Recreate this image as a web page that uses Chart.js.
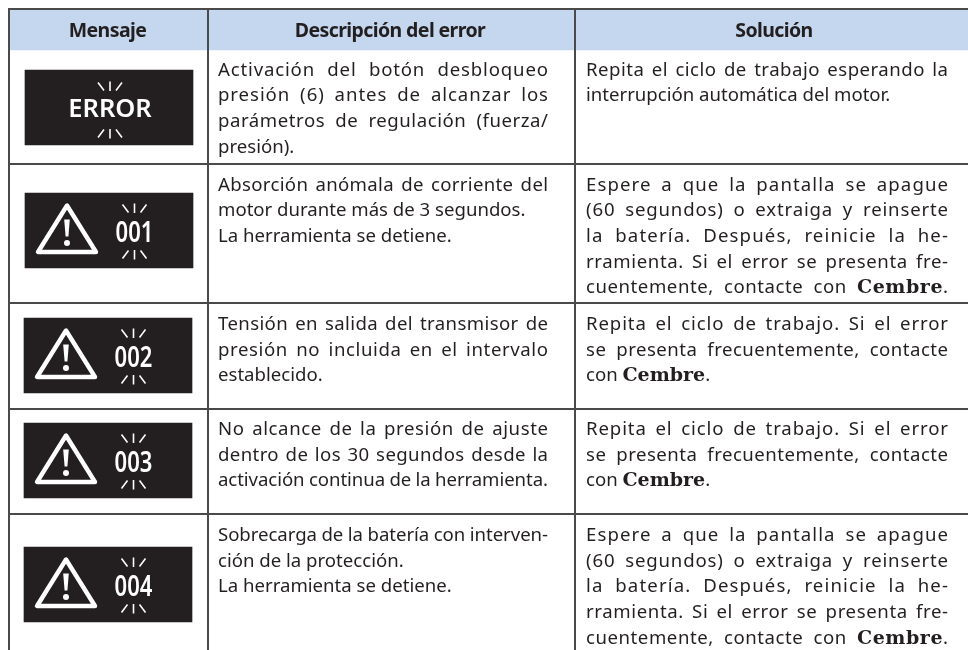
<!DOCTYPE html>
<html>
<head>
<meta charset="utf-8">
<script src="https://cdn.jsdelivr.net/npm/chart.js@4/dist/chart.umd.min.js"></script>
<style>
  html, body { margin: 0; padding: 0; background: #fff; }
  canvas { display: block; }
</style>
</head>
<body>
<canvas id="myChart" width="968" height="650"></canvas>
<script>
const columnEdges = [8.5, 207.5, 575];
const rowEdges = [8.5, 163.5, 303, 408.5, 514];
const headers = ["Mensaje", "Descripción del error", "Solución"];
const headerCenters = [107.5, 390, 774];
const messages = ["ERROR", "001", "002", "003", "004"];
const panelLefts = [25, 25, 24, 24, 24];
const panelRights = [193, 193, 192, 192, 192];
const panelCenters = [107.5, 230.5, 355.5, 460.5, 584.5];

const descriptions = [
  ["Activación del botón desbloqueo", "presión (6) antes de alcanzar los", "parámetros de regulación (fuerza/", "presión)."],
  ["Absorción anómala de corriente del", "motor durante más de 3 segundos.", "La herramienta se detiene."],
  ["Tensión en salida del transmisor de", "presión no incluida en el intervalo", "establecido."],
  ["No alcance de la presión de ajuste", "dentro de los 30 segundos desde la", "activación continua de la herramienta."],
  ["Sobrecarga de la batería con interven-", "ción de la protección.", "La herramienta se detiene."],
];
const descriptionJustified = [3, 1, 2, 3, 1];
const solutions = [
  ["Repita el ciclo de trabajo esperando la", "interrupción automática del motor."],
  ["Espere a que la pantalla se apague", "(60 segundos) o extraiga y reinserte", "la batería. Después, reinicie la he-", "rramienta. Si el error se presenta fre-", "cuentemente, contacte con Cembre."],
  ["Repita el ciclo de trabajo. Si el error", "se presenta frecuentemente, contacte", "con Cembre."],
  ["Repita el ciclo de trabajo. Si el error", "se presenta frecuentemente, contacte", "con Cembre."],
  ["Espere a que la pantalla se apague", "(60 segundos) o extraiga y reinserte", "la batería. Después, reinicie la he-", "rramienta. Si el error se presenta fre-", "cuentemente, contacte con Cembre."],
];
const solutionJustified = [1, 5, 2, 2, 5];
const firstBaselines = [75.7, 190.7, 330, 435, 541];

const INK = "#231f20";
const BODY_FONT = '18.6px "Noto Sans"';
const BRAND_FONT = 'bold 19px "DejaVu Serif"';
const LINE_GAP = 25.65;

function segments(word) {
  if (word.startsWith("Cembre")) {
    const rest = word.slice(6);
    return rest ? [["Cembre", BRAND_FONT], [rest, BODY_FONT]] : [["Cembre", BRAND_FONT]];
  }
  return [[word, BODY_FONT]];
}

function wordWidth(ctx, word) {
  let w = 0;
  segments(word).forEach(([t, f]) => {
    ctx.font = f;
    w += ctx.measureText(t).width;
  });
  return w;
}

// fits a line to the column width the way the justified print text does
function drawLine(ctx, text, x, y, right) {
  ctx.letterSpacing = "0px";
  const words = text.split(" ");
  const widths = words.map((w) => wordWidth(ctx, w));
  ctx.font = BODY_FONT;
  let space = ctx.measureText(" ").width;
  const natural = widths.reduce((a, b) => a + b, 0) + space * (words.length - 1);
  let spacing = 0;
  if (right) {
    const extra = right - x - natural;
    const gaps = words.length - 1;
    const letters = text.length - gaps - 1;
    spacing = (extra > 0 ? extra * 0.5 : extra * 0.55) / letters;
    if (gaps > 0) space += (extra - spacing * letters) / gaps;
  }
  ctx.letterSpacing = spacing + "px";
  let cx = x;
  words.forEach((word) => {
    segments(word).forEach(([t, f]) => {
      ctx.font = f;
      ctx.fillText(t, cx, y);
      cx += ctx.measureText(t).width;
    });
    cx += space;
  });
  ctx.letterSpacing = "0px";
}

function drawRays(ctx, cx, top, bottom) {
  ctx.strokeStyle = "#fff";
  ctx.lineWidth = 1.6;
  ctx.lineCap = "butt";
  [[-12, -6, top, top + 8], [0, 0, top - 1, top + 8.5], [12, 6, top, top + 8],
   [-6, -12, bottom, bottom + 8], [0, 0, bottom - 0.5, bottom + 9], [6, 12, bottom, bottom + 8]].forEach(([a, b, y0, y1]) => {
    ctx.beginPath();
    ctx.moveTo(cx + a, y0);
    ctx.lineTo(cx + b, y1);
    ctx.stroke();
  });
}

function drawWarning(ctx, cx, cy) {
  ctx.strokeStyle = "#fff";
  ctx.fillStyle = "#fff";
  ctx.lineWidth = 4.4;
  ctx.lineJoin = "round";
  ctx.beginPath();
  ctx.moveTo(cx - 42, cy - 25);
  ctx.lineTo(cx - 71, cy + 21.5);
  ctx.lineTo(cx - 13, cy + 21.5);
  ctx.closePath();
  ctx.stroke();
  ctx.beginPath();
  ctx.moveTo(cx - 44.8, cy - 11);
  ctx.lineTo(cx - 39.2, cy - 11);
  ctx.lineTo(cx - 40.6, cy + 6);
  ctx.lineTo(cx - 43.4, cy + 6);
  ctx.closePath();
  ctx.fill();
  ctx.beginPath();
  ctx.arc(cx - 42, cy + 12.5, 3, 0, Math.PI * 2);
  ctx.fill();
}

const tableText = {
  id: "tableText",
  afterDraw(chart) {
    const { ctx, scales: { x, y } } = chart;
    ctx.save();
    ctx.textBaseline = "alphabetic";

    // header row
    ctx.fillStyle = INK;
    ctx.textAlign = "center";
    ctx.font = '700 19.5px "Noto Sans"';
    ctx.letterSpacing = "-0.6px";
    headers.forEach((h, i) => ctx.fillText(h, x.getPixelForValue(headerCenters[i]), y.getPixelForValue(37)));
    ctx.letterSpacing = "0px";

    // message panels
    messages.forEach((m, i) => {
      const cx = x.getPixelForValue((panelLefts[i] + panelRights[i]) / 2);
      const cy = y.getPixelForValue(panelCenters[i]);
      ctx.fillStyle = "#fff";
      ctx.textAlign = "center";
      if (i === 0) {
        ctx.font = '600 25.5px "Noto Sans"';
        ctx.fillText(m, cx + 1, cy + 9.5);
        drawRays(ctx, cx + 1, cy - 25, cy + 22);
      } else {
        drawWarning(ctx, cx, cy);
        ctx.fillStyle = "#fff";
        ctx.save();
        ctx.translate(cx + 25.5, cy + 11);
        ctx.scale(0.76, 1);
        ctx.font = '600 29px "Noto Sans"';
        ctx.fillText(m, 0, 0);
        ctx.restore();
        drawRays(ctx, cx + 25.5, cy - 26, cy + 20);
      }
    });

    // body text
    ctx.fillStyle = INK;
    ctx.textAlign = "left";
    firstBaselines.forEach((base, r) => {
      descriptions[r].forEach((line, i) => {
        const yy = y.getPixelForValue(base + i * LINE_GAP);
        drawLine(ctx, line, x.getPixelForValue(218), yy, i < descriptionJustified[r] ? x.getPixelForValue(548) : null);
      });
      solutions[r].forEach((line, i) => {
        const yy = y.getPixelForValue(base + i * LINE_GAP);
        drawLine(ctx, line, x.getPixelForValue(586), yy, i < solutionJustified[r] ? x.getPixelForValue(948) : null);
      });
    });
    ctx.restore();
  },
};

new Chart(document.getElementById("myChart"), {
  type: "bar",
  data: {
    datasets: [
      {
        label: "Cabecera",
        data: [{ y: 29.5, x: [8, 968] }],
        backgroundColor: "#c5d7ef",
        barThickness: 41,
        grouped: false,
      },
      {
        label: "Mensaje",
        data: messages.map((m, i) => ({ y: panelCenters[i], x: [panelLefts[i], panelRights[i]] })),
        backgroundColor: INK,
        barThickness: 75,
        grouped: false,
      },
    ],
  },
  options: {
    indexAxis: "y",
    responsive: false,
    animation: false,
    layout: { padding: { left: 8, top: 8 } },
    plugins: { legend: { display: false }, tooltip: { enabled: false } },
    scales: {
      x: {
        type: "linear",
        min: 8,
        max: 968,
        afterBuildTicks: (scale) => { scale.ticks = columnEdges.map((v) => ({ value: v })); },
        ticks: { display: false },
        border: { display: false },
        grid: { color: "#4a4a4a", lineWidth: 2, drawTicks: false, z: 1 },
      },
      y: {
        type: "linear",
        reverse: true,
        min: 8,
        max: 650,
        offset: false,
        afterBuildTicks: (scale) => { scale.ticks = rowEdges.map((v) => ({ value: v })); },
        ticks: { display: false },
        border: { display: false },
        grid: { color: "#4a4a4a", lineWidth: 2, drawTicks: false, offset: false, z: 1 },
      },
    },
  },
  plugins: [tableText],
});
</script>
</body>
</html>
